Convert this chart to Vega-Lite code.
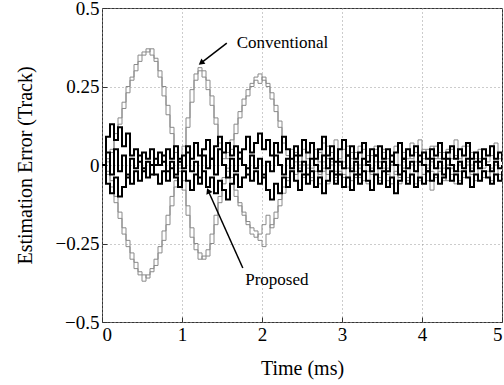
{
  "$schema": "https://vega.github.io/schema/vega-lite/v6.json",
  "width": 400,
  "height": 314,
  "autosize": "none",
  "padding": {"left": 102, "top": 8, "right": 2, "bottom": 63},
  "background": "white",
  "config": {
    "view": {"stroke": "#333", "strokeWidth": 1},
    "font": "Liberation Serif",
    "axis": {
      "labelFont": "Liberation Serif", "labelFontSize": 19, "labelColor": "black",
      "titleFont": "Liberation Serif", "titleFontSize": 20, "titleFontWeight": "normal", "titleColor": "black",
      "domain": false, "tickColor": "#333", "tickSize": -5,
      "grid": true, "gridColor": "#999", "gridDash": [1, 3], "gridWidth": 1
    }
  },
  "datasets": {
    "lines": [
{"s":"c1","t":0,"v":0},{"s":"c1","t":0.05,"v":0.02},{"s":"c1","t":0.1,"v":0.04},{"s":"c1","t":0.15,"v":0.08},{"s":"c1","t":0.2,"v":0.13},{"s":"c1","t":0.25,"v":0.18},{"s":"c1","t":0.3,"v":0.23},{"s":"c1","t":0.35,"v":0.27},{"s":"c1","t":0.4,"v":0.3},{"s":"c1","t":0.45,"v":0.33},{"s":"c1","t":0.5,"v":0.35},{"s":"c1","t":0.55,"v":0.36},{"s":"c1","t":0.6,"v":0.37},{"s":"c1","t":0.65,"v":0.34},{"s":"c1","t":0.7,"v":0.3},{"s":"c1","t":0.75,"v":0.25},{"s":"c1","t":0.8,"v":0.19},{"s":"c1","t":0.85,"v":0.12},{"s":"c1","t":0.9,"v":0.06},{"s":"c1","t":0.95,"v":0.01},{"s":"c1","t":1,"v":0.03},{"s":"c1","t":1.05,"v":0.12},{"s":"c1","t":1.1,"v":0.2},{"s":"c1","t":1.15,"v":0.27},{"s":"c1","t":1.2,"v":0.31},{"s":"c1","t":1.25,"v":0.3},{"s":"c1","t":1.3,"v":0.27},{"s":"c1","t":1.35,"v":0.22},{"s":"c1","t":1.4,"v":0.15},{"s":"c1","t":1.45,"v":0.09},{"s":"c1","t":1.5,"v":0.04},{"s":"c1","t":1.55,"v":0.02},{"s":"c1","t":1.6,"v":0.05},{"s":"c1","t":1.65,"v":0.1},{"s":"c1","t":1.7,"v":0.15},{"s":"c1","t":1.75,"v":0.19},{"s":"c1","t":1.8,"v":0.22},{"s":"c1","t":1.85,"v":0.25},{"s":"c1","t":1.9,"v":0.27},{"s":"c1","t":1.95,"v":0.26},{"s":"c1","t":2,"v":0.28},{"s":"c1","t":2.05,"v":0.26},{"s":"c1","t":2.1,"v":0.23},{"s":"c1","t":2.15,"v":0.19},{"s":"c1","t":2.2,"v":0.14},{"s":"c1","t":2.25,"v":0.09},{"s":"c1","t":2.3,"v":0.05},{"s":"c1","t":2.35,"v":0.02},{"s":"c1","t":2.4,"v":0.04},{"s":"c1","t":2.45,"v":0.01},{"s":"c1","t":2.5,"v":0.05},{"s":"c1","t":2.55,"v":0.02},{"s":"c1","t":2.6,"v":0.07},{"s":"c1","t":2.65,"v":0},{"s":"c1","t":2.7,"v":0.04},{"s":"c1","t":2.75,"v":-0.02},{"s":"c1","t":2.8,"v":0.06},{"s":"c1","t":2.85,"v":0.01},{"s":"c1","t":2.9,"v":0.08},{"s":"c1","t":2.95,"v":0.02},{"s":"c1","t":3,"v":0.05},{"s":"c1","t":3.05,"v":-0.01},{"s":"c1","t":3.1,"v":0.04},{"s":"c1","t":3.15,"v":0},{"s":"c1","t":3.2,"v":0.06},{"s":"c1","t":3.25,"v":0.02},{"s":"c1","t":3.3,"v":0.03},{"s":"c1","t":3.35,"v":-0.02},{"s":"c1","t":3.4,"v":0.05},{"s":"c1","t":3.45,"v":0.01},{"s":"c1","t":3.5,"v":0.04},{"s":"c1","t":3.55,"v":-0.01},{"s":"c1","t":3.6,"v":0.03},{"s":"c1","t":3.65,"v":0.06},{"s":"c1","t":3.7,"v":0},{"s":"c1","t":3.75,"v":0.04},{"s":"c1","t":3.8,"v":0.02},{"s":"c1","t":3.85,"v":0.07},{"s":"c1","t":3.9,"v":0.01},{"s":"c1","t":3.95,"v":0.03},{"s":"c1","t":4,"v":0.05},{"s":"c1","t":4.05,"v":0},{"s":"c1","t":4.1,"v":0.06},{"s":"c1","t":4.15,"v":0.02},{"s":"c1","t":4.2,"v":0.04},{"s":"c1","t":4.25,"v":-0.01},{"s":"c1","t":4.3,"v":0.05},{"s":"c1","t":4.35,"v":0.02},{"s":"c1","t":4.4,"v":0.03},{"s":"c1","t":4.45,"v":0},{"s":"c1","t":4.5,"v":0.06},{"s":"c1","t":4.55,"v":0.01},{"s":"c1","t":4.6,"v":0.04},{"s":"c1","t":4.65,"v":0.02},{"s":"c1","t":4.7,"v":0.05},{"s":"c1","t":4.75,"v":-0.01},{"s":"c1","t":4.8,"v":0.03},{"s":"c1","t":4.85,"v":0.06},{"s":"c1","t":4.9,"v":0.01},{"s":"c1","t":4.95,"v":0.04},{"s":"c1","t":5,"v":0.02},
{"s":"c2","t":0,"v":0},{"s":"c2","t":0.05,"v":0.01},{"s":"c2","t":0.1,"v":0.05},{"s":"c2","t":0.15,"v":0.1},{"s":"c2","t":0.2,"v":0.15},{"s":"c2","t":0.25,"v":0.2},{"s":"c2","t":0.3,"v":0.25},{"s":"c2","t":0.35,"v":0.28},{"s":"c2","t":0.4,"v":0.32},{"s":"c2","t":0.45,"v":0.35},{"s":"c2","t":0.5,"v":0.36},{"s":"c2","t":0.55,"v":0.37},{"s":"c2","t":0.6,"v":0.35},{"s":"c2","t":0.65,"v":0.33},{"s":"c2","t":0.7,"v":0.28},{"s":"c2","t":0.75,"v":0.22},{"s":"c2","t":0.8,"v":0.16},{"s":"c2","t":0.85,"v":0.1},{"s":"c2","t":0.9,"v":0.04},{"s":"c2","t":0.95,"v":0},{"s":"c2","t":1,"v":0.06},{"s":"c2","t":1.05,"v":0.15},{"s":"c2","t":1.1,"v":0.24},{"s":"c2","t":1.15,"v":0.29},{"s":"c2","t":1.2,"v":0.3},{"s":"c2","t":1.25,"v":0.28},{"s":"c2","t":1.3,"v":0.24},{"s":"c2","t":1.35,"v":0.19},{"s":"c2","t":1.4,"v":0.13},{"s":"c2","t":1.45,"v":0.07},{"s":"c2","t":1.5,"v":0.02},{"s":"c2","t":1.55,"v":0.04},{"s":"c2","t":1.6,"v":0.08},{"s":"c2","t":1.65,"v":0.13},{"s":"c2","t":1.7,"v":0.17},{"s":"c2","t":1.75,"v":0.21},{"s":"c2","t":1.8,"v":0.24},{"s":"c2","t":1.85,"v":0.26},{"s":"c2","t":1.9,"v":0.28},{"s":"c2","t":1.95,"v":0.29},{"s":"c2","t":2,"v":0.27},{"s":"c2","t":2.05,"v":0.25},{"s":"c2","t":2.1,"v":0.21},{"s":"c2","t":2.15,"v":0.17},{"s":"c2","t":2.2,"v":0.12},{"s":"c2","t":2.25,"v":0.07},{"s":"c2","t":2.3,"v":0.03},{"s":"c2","t":2.35,"v":0.05},{"s":"c2","t":2.4,"v":0.01},{"s":"c2","t":2.45,"v":0.03},{"s":"c2","t":2.5,"v":0},{"s":"c2","t":2.55,"v":0.04},{"s":"c2","t":2.6,"v":-0.01},{"s":"c2","t":2.65,"v":0.05},{"s":"c2","t":2.7,"v":0.01},{"s":"c2","t":2.75,"v":0.07},{"s":"c2","t":2.8,"v":0.02},{"s":"c2","t":2.85,"v":0.04},{"s":"c2","t":2.9,"v":-0.02},{"s":"c2","t":2.95,"v":0.05},{"s":"c2","t":3,"v":0.01},{"s":"c2","t":3.05,"v":0.06},{"s":"c2","t":3.1,"v":0.02},{"s":"c2","t":3.15,"v":0.04},{"s":"c2","t":3.2,"v":-0.01},{"s":"c2","t":3.25,"v":0.05},{"s":"c2","t":3.3,"v":0},{"s":"c2","t":3.35,"v":0.03},{"s":"c2","t":3.4,"v":0.06},{"s":"c2","t":3.45,"v":0.01},{"s":"c2","t":3.5,"v":0.05},{"s":"c2","t":3.55,"v":0.02},{"s":"c2","t":3.6,"v":0},{"s":"c2","t":3.65,"v":0.04},{"s":"c2","t":3.7,"v":0.07},{"s":"c2","t":3.75,"v":0.01},{"s":"c2","t":3.8,"v":0.05},{"s":"c2","t":3.85,"v":0.02},{"s":"c2","t":3.9,"v":0.04},{"s":"c2","t":3.95,"v":0.08},{"s":"c2","t":4,"v":0.02},{"s":"c2","t":4.05,"v":0.05},{"s":"c2","t":4.1,"v":0.01},{"s":"c2","t":4.15,"v":0.06},{"s":"c2","t":4.2,"v":0.02},{"s":"c2","t":4.25,"v":0.04},{"s":"c2","t":4.3,"v":0},{"s":"c2","t":4.35,"v":0.05},{"s":"c2","t":4.4,"v":0.08},{"s":"c2","t":4.45,"v":0.02},{"s":"c2","t":4.5,"v":0.03},{"s":"c2","t":4.55,"v":0.06},{"s":"c2","t":4.6,"v":0},{"s":"c2","t":4.65,"v":0.04},{"s":"c2","t":4.7,"v":0.02},{"s":"c2","t":4.75,"v":0.05},{"s":"c2","t":4.8,"v":0.01},{"s":"c2","t":4.85,"v":0.03},{"s":"c2","t":4.9,"v":0.07},{"s":"c2","t":4.95,"v":0.02},{"s":"c2","t":5,"v":0.04},
{"s":"c3","t":0,"v":0},{"s":"c3","t":0.05,"v":-0.02},{"s":"c3","t":0.1,"v":-0.05},{"s":"c3","t":0.15,"v":-0.1},{"s":"c3","t":0.2,"v":-0.15},{"s":"c3","t":0.25,"v":-0.2},{"s":"c3","t":0.3,"v":-0.24},{"s":"c3","t":0.35,"v":-0.28},{"s":"c3","t":0.4,"v":-0.31},{"s":"c3","t":0.45,"v":-0.34},{"s":"c3","t":0.5,"v":-0.35},{"s":"c3","t":0.55,"v":-0.36},{"s":"c3","t":0.6,"v":-0.34},{"s":"c3","t":0.65,"v":-0.32},{"s":"c3","t":0.7,"v":-0.28},{"s":"c3","t":0.75,"v":-0.24},{"s":"c3","t":0.8,"v":-0.19},{"s":"c3","t":0.85,"v":-0.13},{"s":"c3","t":0.9,"v":-0.07},{"s":"c3","t":0.95,"v":-0.02},{"s":"c3","t":1,"v":-0.05},{"s":"c3","t":1.05,"v":-0.13},{"s":"c3","t":1.1,"v":-0.2},{"s":"c3","t":1.15,"v":-0.25},{"s":"c3","t":1.2,"v":-0.28},{"s":"c3","t":1.25,"v":-0.3},{"s":"c3","t":1.3,"v":-0.29},{"s":"c3","t":1.35,"v":-0.25},{"s":"c3","t":1.4,"v":-0.19},{"s":"c3","t":1.45,"v":-0.12},{"s":"c3","t":1.5,"v":-0.06},{"s":"c3","t":1.55,"v":-0.02},{"s":"c3","t":1.6,"v":-0.04},{"s":"c3","t":1.65,"v":-0.08},{"s":"c3","t":1.7,"v":-0.12},{"s":"c3","t":1.75,"v":-0.15},{"s":"c3","t":1.8,"v":-0.18},{"s":"c3","t":1.85,"v":-0.2},{"s":"c3","t":1.9,"v":-0.21},{"s":"c3","t":1.95,"v":-0.24},{"s":"c3","t":2,"v":-0.26},{"s":"c3","t":2.05,"v":-0.22},{"s":"c3","t":2.1,"v":-0.19},{"s":"c3","t":2.15,"v":-0.15},{"s":"c3","t":2.2,"v":-0.11},{"s":"c3","t":2.25,"v":-0.07},{"s":"c3","t":2.3,"v":-0.04},{"s":"c3","t":2.35,"v":-0.01},{"s":"c3","t":2.4,"v":-0.03},{"s":"c3","t":2.45,"v":0},{"s":"c3","t":2.5,"v":-0.04},{"s":"c3","t":2.55,"v":-0.01},{"s":"c3","t":2.6,"v":-0.05},{"s":"c3","t":2.65,"v":0},{"s":"c3","t":2.7,"v":-0.03},{"s":"c3","t":2.75,"v":0.01},{"s":"c3","t":2.8,"v":-0.06},{"s":"c3","t":2.85,"v":-0.02},{"s":"c3","t":2.9,"v":-0.04},{"s":"c3","t":2.95,"v":0},{"s":"c3","t":3,"v":-0.03},{"s":"c3","t":3.05,"v":-0.07},{"s":"c3","t":3.1,"v":-0.01},{"s":"c3","t":3.15,"v":-0.04},{"s":"c3","t":3.2,"v":0},{"s":"c3","t":3.25,"v":-0.05},{"s":"c3","t":3.3,"v":-0.02},{"s":"c3","t":3.35,"v":-0.03},{"s":"c3","t":3.4,"v":0.01},{"s":"c3","t":3.45,"v":-0.04},{"s":"c3","t":3.5,"v":-0.02},{"s":"c3","t":3.55,"v":-0.05},{"s":"c3","t":3.6,"v":0},{"s":"c3","t":3.65,"v":-0.03},{"s":"c3","t":3.7,"v":-0.06},{"s":"c3","t":3.75,"v":-0.01},{"s":"c3","t":3.8,"v":-0.04},{"s":"c3","t":3.85,"v":0},{"s":"c3","t":3.9,"v":-0.02},{"s":"c3","t":3.95,"v":-0.05},{"s":"c3","t":4,"v":-0.03},{"s":"c3","t":4.05,"v":-0.01},{"s":"c3","t":4.1,"v":-0.08},{"s":"c3","t":4.15,"v":-0.04},{"s":"c3","t":4.2,"v":-0.02},{"s":"c3","t":4.25,"v":-0.05},{"s":"c3","t":4.3,"v":0},{"s":"c3","t":4.35,"v":-0.03},{"s":"c3","t":4.4,"v":-0.06},{"s":"c3","t":4.45,"v":-0.02},{"s":"c3","t":4.5,"v":-0.04},{"s":"c3","t":4.55,"v":0},{"s":"c3","t":4.6,"v":-0.03},{"s":"c3","t":4.65,"v":-0.05},{"s":"c3","t":4.7,"v":-0.01},{"s":"c3","t":4.75,"v":-0.04},{"s":"c3","t":4.8,"v":-0.02},{"s":"c3","t":4.85,"v":-0.05},{"s":"c3","t":4.9,"v":0},{"s":"c3","t":4.95,"v":-0.03},{"s":"c3","t":5,"v":-0.02},
{"s":"c4","t":0,"v":0},{"s":"c4","t":0.05,"v":-0.03},{"s":"c4","t":0.1,"v":-0.07},{"s":"c4","t":0.15,"v":-0.12},{"s":"c4","t":0.2,"v":-0.17},{"s":"c4","t":0.25,"v":-0.22},{"s":"c4","t":0.3,"v":-0.26},{"s":"c4","t":0.35,"v":-0.3},{"s":"c4","t":0.4,"v":-0.33},{"s":"c4","t":0.45,"v":-0.35},{"s":"c4","t":0.5,"v":-0.37},{"s":"c4","t":0.55,"v":-0.35},{"s":"c4","t":0.6,"v":-0.33},{"s":"c4","t":0.65,"v":-0.3},{"s":"c4","t":0.7,"v":-0.26},{"s":"c4","t":0.75,"v":-0.21},{"s":"c4","t":0.8,"v":-0.16},{"s":"c4","t":0.85,"v":-0.1},{"s":"c4","t":0.9,"v":-0.05},{"s":"c4","t":0.95,"v":-0.01},{"s":"c4","t":1,"v":-0.08},{"s":"c4","t":1.05,"v":-0.16},{"s":"c4","t":1.1,"v":-0.23},{"s":"c4","t":1.15,"v":-0.27},{"s":"c4","t":1.2,"v":-0.3},{"s":"c4","t":1.25,"v":-0.29},{"s":"c4","t":1.3,"v":-0.27},{"s":"c4","t":1.35,"v":-0.22},{"s":"c4","t":1.4,"v":-0.16},{"s":"c4","t":1.45,"v":-0.1},{"s":"c4","t":1.5,"v":-0.04},{"s":"c4","t":1.55,"v":-0.01},{"s":"c4","t":1.6,"v":-0.06},{"s":"c4","t":1.65,"v":-0.1},{"s":"c4","t":1.7,"v":-0.13},{"s":"c4","t":1.75,"v":-0.16},{"s":"c4","t":1.8,"v":-0.19},{"s":"c4","t":1.85,"v":-0.22},{"s":"c4","t":1.9,"v":-0.23},{"s":"c4","t":1.95,"v":-0.22},{"s":"c4","t":2,"v":-0.19},{"s":"c4","t":2.05,"v":-0.16},{"s":"c4","t":2.1,"v":-0.2},{"s":"c4","t":2.15,"v":-0.17},{"s":"c4","t":2.2,"v":-0.13},{"s":"c4","t":2.25,"v":-0.09},{"s":"c4","t":2.3,"v":-0.05},{"s":"c4","t":2.35,"v":-0.02},{"s":"c4","t":2.4,"v":-0.05},{"s":"c4","t":2.45,"v":-0.01},{"s":"c4","t":2.5,"v":-0.03},{"s":"c4","t":2.55,"v":0},{"s":"c4","t":2.6,"v":-0.04},{"s":"c4","t":2.65,"v":-0.02},{"s":"c4","t":2.7,"v":-0.06},{"s":"c4","t":2.75,"v":-0.01},{"s":"c4","t":2.8,"v":-0.03},{"s":"c4","t":2.85,"v":0},{"s":"c4","t":2.9,"v":-0.05},{"s":"c4","t":2.95,"v":-0.02},{"s":"c4","t":3,"v":-0.04},{"s":"c4","t":3.05,"v":-0.01},{"s":"c4","t":3.1,"v":-0.05},{"s":"c4","t":3.15,"v":-0.02},{"s":"c4","t":3.2,"v":-0.04},{"s":"c4","t":3.25,"v":0},{"s":"c4","t":3.3,"v":-0.06},{"s":"c4","t":3.35,"v":-0.01},{"s":"c4","t":3.4,"v":-0.03},{"s":"c4","t":3.45,"v":-0.05},{"s":"c4","t":3.5,"v":-0.01},{"s":"c4","t":3.55,"v":-0.03},{"s":"c4","t":3.6,"v":-0.06},{"s":"c4","t":3.65,"v":-0.02},{"s":"c4","t":3.7,"v":-0.04},{"s":"c4","t":3.75,"v":-0.01},{"s":"c4","t":3.8,"v":-0.05},{"s":"c4","t":3.85,"v":-0.03},{"s":"c4","t":3.9,"v":-0.06},{"s":"c4","t":3.95,"v":0},{"s":"c4","t":4,"v":-0.03},{"s":"c4","t":4.05,"v":-0.05},{"s":"c4","t":4.1,"v":-0.02},{"s":"c4","t":4.15,"v":-0.04},{"s":"c4","t":4.2,"v":-0.01},{"s":"c4","t":4.25,"v":-0.03},{"s":"c4","t":4.3,"v":-0.05},{"s":"c4","t":4.35,"v":-0.01},{"s":"c4","t":4.4,"v":-0.03},{"s":"c4","t":4.45,"v":-0.05},{"s":"c4","t":4.5,"v":-0.02},{"s":"c4","t":4.55,"v":-0.04},{"s":"c4","t":4.6,"v":-0.01},{"s":"c4","t":4.65,"v":-0.03},{"s":"c4","t":4.7,"v":-0.05},{"s":"c4","t":4.75,"v":-0.02},{"s":"c4","t":4.8,"v":-0.04},{"s":"c4","t":4.85,"v":-0.01},{"s":"c4","t":4.9,"v":-0.03},{"s":"c4","t":4.95,"v":-0.05},{"s":"c4","t":5,"v":-0.02},
{"s":"p1","t":0,"v":0},{"s":"p1","t":0.05,"v":0.09},{"s":"p1","t":0.1,"v":0.13},{"s":"p1","t":0.15,"v":0.08},{"s":"p1","t":0.2,"v":0.12},{"s":"p1","t":0.25,"v":0.06},{"s":"p1","t":0.3,"v":0.1},{"s":"p1","t":0.35,"v":0.03},{"s":"p1","t":0.4,"v":0.05},{"s":"p1","t":0.45,"v":0.01},{"s":"p1","t":0.5,"v":0.04},{"s":"p1","t":0.55,"v":0.02},{"s":"p1","t":0.6,"v":0.05},{"s":"p1","t":0.65,"v":0},{"s":"p1","t":0.7,"v":0.04},{"s":"p1","t":0.75,"v":0.01},{"s":"p1","t":0.8,"v":0.05},{"s":"p1","t":0.85,"v":0.02},{"s":"p1","t":0.9,"v":0.06},{"s":"p1","t":0.95,"v":0.01},{"s":"p1","t":1,"v":0.03},{"s":"p1","t":1.05,"v":0.06},{"s":"p1","t":1.1,"v":0.02},{"s":"p1","t":1.15,"v":0.07},{"s":"p1","t":1.2,"v":0.03},{"s":"p1","t":1.25,"v":0.05},{"s":"p1","t":1.3,"v":0.08},{"s":"p1","t":1.35,"v":0.02},{"s":"p1","t":1.4,"v":0.06},{"s":"p1","t":1.45,"v":0.09},{"s":"p1","t":1.5,"v":0.04},{"s":"p1","t":1.55,"v":0.07},{"s":"p1","t":1.6,"v":0.03},{"s":"p1","t":1.65,"v":0.06},{"s":"p1","t":1.7,"v":0.02},{"s":"p1","t":1.75,"v":0.05},{"s":"p1","t":1.8,"v":0.09},{"s":"p1","t":1.85,"v":0.04},{"s":"p1","t":1.9,"v":0.07},{"s":"p1","t":1.95,"v":0.1},{"s":"p1","t":2,"v":0.05},{"s":"p1","t":2.05,"v":0.08},{"s":"p1","t":2.1,"v":0.03},{"s":"p1","t":2.15,"v":0.07},{"s":"p1","t":2.2,"v":0.04},{"s":"p1","t":2.25,"v":0.09},{"s":"p1","t":2.3,"v":0.05},{"s":"p1","t":2.35,"v":0.02},{"s":"p1","t":2.4,"v":0.06},{"s":"p1","t":2.45,"v":0.03},{"s":"p1","t":2.5,"v":0.08},{"s":"p1","t":2.55,"v":0.04},{"s":"p1","t":2.6,"v":0.07},{"s":"p1","t":2.65,"v":0.02},{"s":"p1","t":2.7,"v":0.05},{"s":"p1","t":2.75,"v":0.09},{"s":"p1","t":2.8,"v":0.03},{"s":"p1","t":2.85,"v":0.06},{"s":"p1","t":2.9,"v":0.01},{"s":"p1","t":2.95,"v":0.05},{"s":"p1","t":3,"v":0.08},{"s":"p1","t":3.05,"v":0.03},{"s":"p1","t":3.1,"v":0.06},{"s":"p1","t":3.15,"v":0.02},{"s":"p1","t":3.2,"v":0.04},{"s":"p1","t":3.25,"v":0.07},{"s":"p1","t":3.3,"v":0.01},{"s":"p1","t":3.35,"v":0.05},{"s":"p1","t":3.4,"v":0.03},{"s":"p1","t":3.45,"v":0.06},{"s":"p1","t":3.5,"v":0.02},{"s":"p1","t":3.55,"v":0.05},{"s":"p1","t":3.6,"v":0.01},{"s":"p1","t":3.65,"v":0.04},{"s":"p1","t":3.7,"v":0.07},{"s":"p1","t":3.75,"v":0.02},{"s":"p1","t":3.8,"v":0.05},{"s":"p1","t":3.85,"v":0.03},{"s":"p1","t":3.9,"v":0.06},{"s":"p1","t":3.95,"v":0.01},{"s":"p1","t":4,"v":0.04},{"s":"p1","t":4.05,"v":0.02},{"s":"p1","t":4.1,"v":0.05},{"s":"p1","t":4.15,"v":0.03},{"s":"p1","t":4.2,"v":0.07},{"s":"p1","t":4.25,"v":0.02},{"s":"p1","t":4.3,"v":0.04},{"s":"p1","t":4.35,"v":0.06},{"s":"p1","t":4.4,"v":0.02},{"s":"p1","t":4.45,"v":0.05},{"s":"p1","t":4.5,"v":0.03},{"s":"p1","t":4.55,"v":0.07},{"s":"p1","t":4.6,"v":0.02},{"s":"p1","t":4.65,"v":0.04},{"s":"p1","t":4.7,"v":0.01},{"s":"p1","t":4.75,"v":0.05},{"s":"p1","t":4.8,"v":0.03},{"s":"p1","t":4.85,"v":0.06},{"s":"p1","t":4.9,"v":0.02},{"s":"p1","t":4.95,"v":0.04},{"s":"p1","t":5,"v":0.01},
{"s":"p2","t":0,"v":0},{"s":"p2","t":0.05,"v":-0.06},{"s":"p2","t":0.1,"v":-0.09},{"s":"p2","t":0.15,"v":-0.04},{"s":"p2","t":0.2,"v":-0.1},{"s":"p2","t":0.25,"v":-0.07},{"s":"p2","t":0.3,"v":-0.03},{"s":"p2","t":0.35,"v":-0.06},{"s":"p2","t":0.4,"v":-0.02},{"s":"p2","t":0.45,"v":-0.05},{"s":"p2","t":0.5,"v":-0.01},{"s":"p2","t":0.55,"v":-0.04},{"s":"p2","t":0.6,"v":0},{"s":"p2","t":0.65,"v":-0.03},{"s":"p2","t":0.7,"v":-0.06},{"s":"p2","t":0.75,"v":-0.02},{"s":"p2","t":0.8,"v":-0.05},{"s":"p2","t":0.85,"v":-0.01},{"s":"p2","t":0.9,"v":-0.04},{"s":"p2","t":0.95,"v":-0.07},{"s":"p2","t":1,"v":-0.02},{"s":"p2","t":1.05,"v":-0.05},{"s":"p2","t":1.1,"v":-0.08},{"s":"p2","t":1.15,"v":-0.03},{"s":"p2","t":1.2,"v":-0.06},{"s":"p2","t":1.25,"v":-0.02},{"s":"p2","t":1.3,"v":-0.07},{"s":"p2","t":1.35,"v":-0.04},{"s":"p2","t":1.4,"v":-0.09},{"s":"p2","t":1.45,"v":-0.05},{"s":"p2","t":1.5,"v":-0.08},{"s":"p2","t":1.55,"v":-0.11},{"s":"p2","t":1.6,"v":-0.06},{"s":"p2","t":1.65,"v":-0.03},{"s":"p2","t":1.7,"v":-0.07},{"s":"p2","t":1.75,"v":-0.04},{"s":"p2","t":1.8,"v":-0.01},{"s":"p2","t":1.85,"v":-0.05},{"s":"p2","t":1.9,"v":-0.02},{"s":"p2","t":1.95,"v":-0.06},{"s":"p2","t":2,"v":-0.03},{"s":"p2","t":2.05,"v":-0.08},{"s":"p2","t":2.1,"v":-0.11},{"s":"p2","t":2.15,"v":-0.06},{"s":"p2","t":2.2,"v":-0.09},{"s":"p2","t":2.25,"v":-0.04},{"s":"p2","t":2.3,"v":-0.07},{"s":"p2","t":2.35,"v":-0.02},{"s":"p2","t":2.4,"v":-0.05},{"s":"p2","t":2.45,"v":-0.08},{"s":"p2","t":2.5,"v":-0.03},{"s":"p2","t":2.55,"v":-0.06},{"s":"p2","t":2.6,"v":-0.02},{"s":"p2","t":2.65,"v":-0.07},{"s":"p2","t":2.7,"v":-0.04},{"s":"p2","t":2.75,"v":-0.09},{"s":"p2","t":2.8,"v":-0.05},{"s":"p2","t":2.85,"v":-0.02},{"s":"p2","t":2.9,"v":-0.06},{"s":"p2","t":2.95,"v":-0.03},{"s":"p2","t":3,"v":-0.07},{"s":"p2","t":3.05,"v":-0.04},{"s":"p2","t":3.1,"v":-0.08},{"s":"p2","t":3.15,"v":-0.03},{"s":"p2","t":3.2,"v":-0.06},{"s":"p2","t":3.25,"v":-0.02},{"s":"p2","t":3.3,"v":-0.05},{"s":"p2","t":3.35,"v":-0.08},{"s":"p2","t":3.4,"v":-0.03},{"s":"p2","t":3.45,"v":-0.06},{"s":"p2","t":3.5,"v":-0.02},{"s":"p2","t":3.55,"v":-0.07},{"s":"p2","t":3.6,"v":-0.04},{"s":"p2","t":3.65,"v":-0.09},{"s":"p2","t":3.7,"v":-0.05},{"s":"p2","t":3.75,"v":-0.02},{"s":"p2","t":3.8,"v":-0.06},{"s":"p2","t":3.85,"v":-0.03},{"s":"p2","t":3.9,"v":-0.07},{"s":"p2","t":3.95,"v":-0.04},{"s":"p2","t":4,"v":-0.06},{"s":"p2","t":4.05,"v":-0.02},{"s":"p2","t":4.1,"v":-0.05},{"s":"p2","t":4.15,"v":-0.03},{"s":"p2","t":4.2,"v":-0.06},{"s":"p2","t":4.25,"v":-0.04},{"s":"p2","t":4.3,"v":-0.01},{"s":"p2","t":4.35,"v":-0.05},{"s":"p2","t":4.4,"v":-0.03},{"s":"p2","t":4.45,"v":-0.06},{"s":"p2","t":4.5,"v":-0.02},{"s":"p2","t":4.55,"v":-0.04},{"s":"p2","t":4.6,"v":-0.07},{"s":"p2","t":4.65,"v":-0.03},{"s":"p2","t":4.7,"v":-0.05},{"s":"p2","t":4.75,"v":-0.02},{"s":"p2","t":4.8,"v":-0.04},{"s":"p2","t":4.85,"v":-0.06},{"s":"p2","t":4.9,"v":-0.03},{"s":"p2","t":4.95,"v":-0.05},{"s":"p2","t":5,"v":-0.02},
{"s":"p3","t":0,"v":0},{"s":"p3","t":0.05,"v":0.04},{"s":"p3","t":0.1,"v":-0.03},{"s":"p3","t":0.15,"v":0.05},{"s":"p3","t":0.2,"v":-0.02},{"s":"p3","t":0.25,"v":0.03},{"s":"p3","t":0.3,"v":-0.04},{"s":"p3","t":0.35,"v":0.02},{"s":"p3","t":0.4,"v":-0.01},{"s":"p3","t":0.45,"v":0.03},{"s":"p3","t":0.5,"v":-0.02},{"s":"p3","t":0.55,"v":0.01},{"s":"p3","t":0.6,"v":-0.03},{"s":"p3","t":0.65,"v":0.02},{"s":"p3","t":0.7,"v":0},{"s":"p3","t":0.75,"v":0.03},{"s":"p3","t":0.8,"v":-0.02},{"s":"p3","t":0.85,"v":0.01},{"s":"p3","t":0.9,"v":-0.03},{"s":"p3","t":0.95,"v":0.02},{"s":"p3","t":1,"v":-0.01},{"s":"p3","t":1.05,"v":0.04},{"s":"p3","t":1.1,"v":-0.02},{"s":"p3","t":1.15,"v":0.01},{"s":"p3","t":1.2,"v":-0.04},{"s":"p3","t":1.25,"v":0.03},{"s":"p3","t":1.3,"v":-0.01},{"s":"p3","t":1.35,"v":0.02},{"s":"p3","t":1.4,"v":-0.03},{"s":"p3","t":1.45,"v":0.05},{"s":"p3","t":1.5,"v":0},{"s":"p3","t":1.55,"v":-0.04},{"s":"p3","t":1.6,"v":0.02},{"s":"p3","t":1.65,"v":-0.02},{"s":"p3","t":1.7,"v":0.04},{"s":"p3","t":1.75,"v":0},{"s":"p3","t":1.8,"v":-0.03},{"s":"p3","t":1.85,"v":0.03},{"s":"p3","t":1.9,"v":-0.01},{"s":"p3","t":1.95,"v":0.02},{"s":"p3","t":2,"v":-0.04},{"s":"p3","t":2.05,"v":0.01},{"s":"p3","t":2.1,"v":-0.02},{"s":"p3","t":2.15,"v":0.03},{"s":"p3","t":2.2,"v":0},{"s":"p3","t":2.25,"v":-0.03},{"s":"p3","t":2.3,"v":0.02},{"s":"p3","t":2.35,"v":-0.01},{"s":"p3","t":2.4,"v":0.03},{"s":"p3","t":2.45,"v":-0.02},{"s":"p3","t":2.5,"v":0.01},{"s":"p3","t":2.55,"v":-0.03},{"s":"p3","t":2.6,"v":0.02},{"s":"p3","t":2.65,"v":0},{"s":"p3","t":2.7,"v":-0.02},{"s":"p3","t":2.75,"v":0.03},{"s":"p3","t":2.8,"v":-0.01},{"s":"p3","t":2.85,"v":0.02},{"s":"p3","t":2.9,"v":-0.03},{"s":"p3","t":2.95,"v":0.01},{"s":"p3","t":3,"v":-0.01},{"s":"p3","t":3.05,"v":0.03},{"s":"p3","t":3.1,"v":-0.02},{"s":"p3","t":3.15,"v":0.01},{"s":"p3","t":3.2,"v":-0.03},{"s":"p3","t":3.25,"v":0.02},{"s":"p3","t":3.3,"v":0},{"s":"p3","t":3.35,"v":-0.02},{"s":"p3","t":3.4,"v":0.03},{"s":"p3","t":3.45,"v":-0.01},{"s":"p3","t":3.5,"v":0.01},{"s":"p3","t":3.55,"v":-0.02},{"s":"p3","t":3.6,"v":0.03},{"s":"p3","t":3.65,"v":0},{"s":"p3","t":3.7,"v":-0.03},{"s":"p3","t":3.75,"v":0.02},{"s":"p3","t":3.8,"v":-0.01},{"s":"p3","t":3.85,"v":0.01},{"s":"p3","t":3.9,"v":-0.02},{"s":"p3","t":3.95,"v":0.03},{"s":"p3","t":4,"v":0},{"s":"p3","t":4.05,"v":-0.02},{"s":"p3","t":4.1,"v":0.02},{"s":"p3","t":4.15,"v":-0.01},{"s":"p3","t":4.2,"v":0.01},{"s":"p3","t":4.25,"v":-0.03},{"s":"p3","t":4.3,"v":0.02},{"s":"p3","t":4.35,"v":0},{"s":"p3","t":4.4,"v":-0.02},{"s":"p3","t":4.45,"v":0.01},{"s":"p3","t":4.5,"v":-0.01},{"s":"p3","t":4.55,"v":0.02},{"s":"p3","t":4.6,"v":-0.02},{"s":"p3","t":4.65,"v":0.01},{"s":"p3","t":4.7,"v":-0.01},{"s":"p3","t":4.75,"v":0.02},{"s":"p3","t":4.8,"v":0},{"s":"p3","t":4.85,"v":-0.02},{"s":"p3","t":4.9,"v":0.01},{"s":"p3","t":4.95,"v":-0.01},{"s":"p3","t":5,"v":0}
    ],
    "notes": [
      {"label": "Conventional", "t": 1.684, "v": 0.388, "t0": 1.56, "v0": 0.388, "t1": 1.248, "v1": 0.327, "ang": 233},
      {"label": "Proposed", "t": 1.79, "v": -0.366, "t0": 1.76, "v0": -0.328, "t1": 1.333, "v1": -0.085, "ang": 336}
    ]
  },
  "layer": [
    {
      "data": {"name": "lines"},
      "transform": [{"filter": {"field": "s", "oneOf": ["c1", "c2", "c3", "c4"]}}],
      "mark": {"type": "line", "interpolate": "step-after", "color": "#8a8a8a", "strokeWidth": 1, "clip": true},
      "encoding": {
        "x": {"field": "t", "type": "quantitative", "scale": {"domain": [0, 5], "nice": false},
              "axis": {"values": [0, 1, 2, 3, 4, 5], "format": "d", "title": "Time (ms)", "labelPadding": 8, "titlePadding": 14}},
        "y": {"field": "v", "type": "quantitative", "scale": {"domain": [-0.5, 0.5], "nice": false},
              "axis": {"values": [-0.5, -0.25, 0, 0.25, 0.5], "format": ".2~f", "title": "Estimation Error (Track)", "labelPadding": 8, "titlePadding": 20}},
        "detail": {"field": "s"}
      }
    },
    {
      "data": {"name": "lines"},
      "transform": [{"filter": {"field": "s", "oneOf": ["p1", "p2", "p3"]}}],
      "mark": {"type": "line", "interpolate": "step-after", "color": "black", "strokeWidth": 2, "clip": true},
      "encoding": {
        "x": {"field": "t", "type": "quantitative"},
        "y": {"field": "v", "type": "quantitative"},
        "detail": {"field": "s"}
      }
    },
    {
      "data": {"name": "notes"},
      "mark": {"type": "rule", "color": "black", "strokeWidth": 1.5},
      "encoding": {
        "x": {"field": "t0", "type": "quantitative"},
        "y": {"field": "v0", "type": "quantitative"},
        "x2": {"field": "t1"},
        "y2": {"field": "v1"}
      }
    },
    {
      "data": {"name": "notes"},
      "mark": {"type": "point", "shape": "triangle", "filled": true, "color": "black", "size": 45, "opacity": 1},
      "encoding": {
        "x": {"field": "t1", "type": "quantitative"},
        "y": {"field": "v1", "type": "quantitative"},
        "angle": {"field": "ang", "type": "quantitative", "scale": null}
      }
    },
    {
      "data": {"name": "notes"},
      "mark": {"type": "text", "align": "left", "baseline": "middle", "font": "Liberation Serif", "fontSize": 17, "color": "black"},
      "encoding": {
        "x": {"field": "t", "type": "quantitative"},
        "y": {"field": "v", "type": "quantitative"},
        "text": {"field": "label"}
      }
    }
  ]
}
